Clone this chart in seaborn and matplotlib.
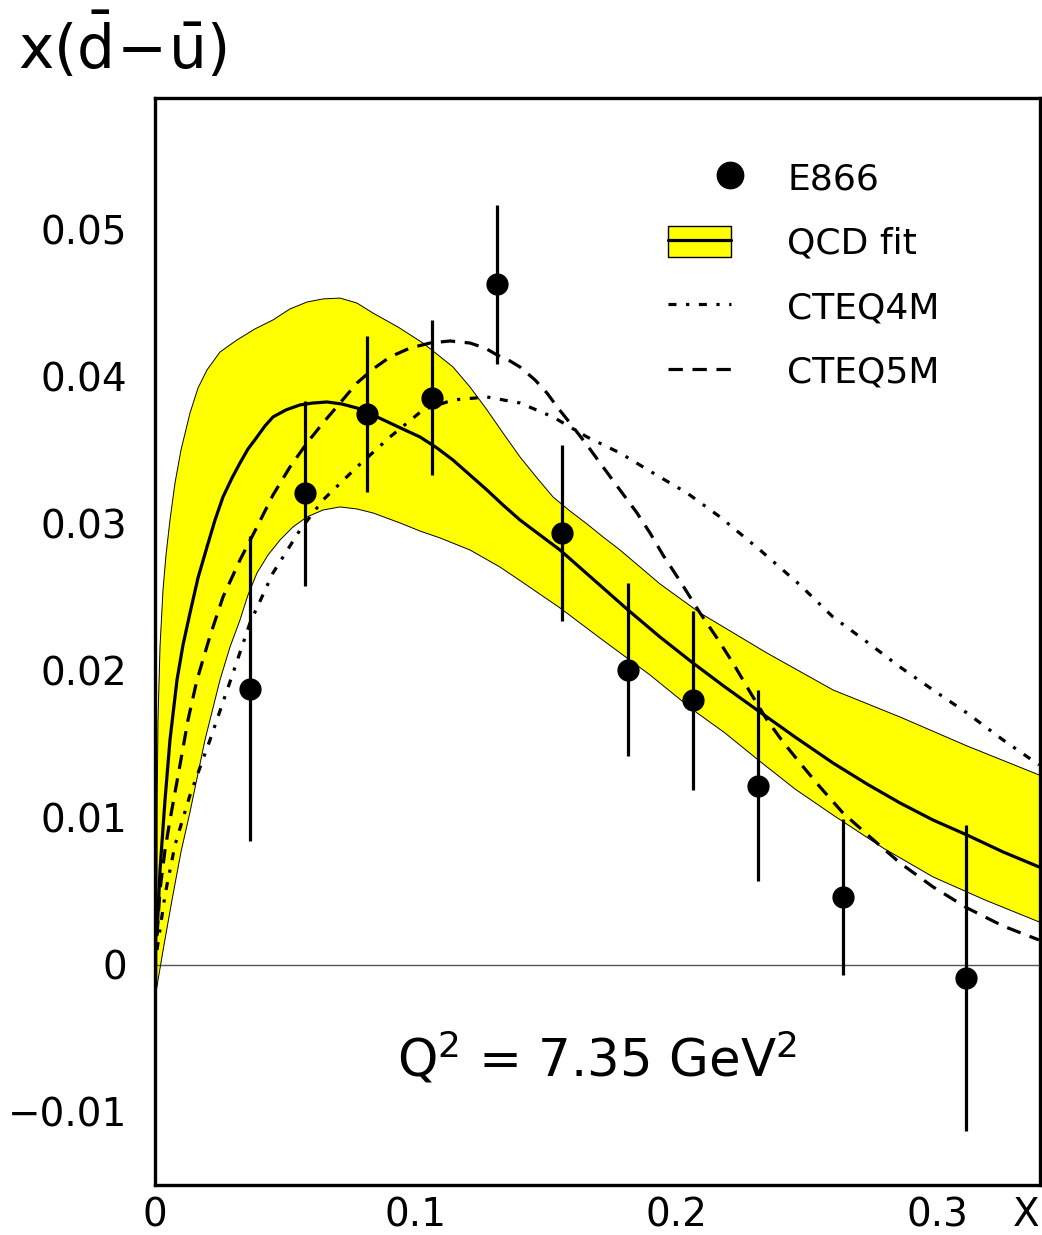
import numpy as np
import matplotlib
matplotlib.use("Agg")
import matplotlib.pyplot as plt
import seaborn as sns
from matplotlib.lines import Line2D
from matplotlib.patches import Patch
from matplotlib.legend_handler import HandlerLine2DCompound
import matplotlib.transforms as mtransforms

# ---------------- data ----------------
# E866 data points
e866_x = [0.0364, 0.0575, 0.0813, 0.1063, 0.1312, 0.1561, 0.1814, 0.2064, 0.2313, 0.2639, 0.3110]
e866_y = [0.0188, 0.0321, 0.0375, 0.0386, 0.0463, 0.0294, 0.0201, 0.0180, 0.0122, 0.0046, -0.0009]
e866_err = [0.0104, 0.0063, 0.0053, 0.0053, 0.0054, 0.0060, 0.0059, 0.0061, 0.0065, 0.0053, 0.0104]

# QCD fit central curve
qcd_x = [0.00077, 0.00192, 0.00384, 0.00575, 0.00844, 0.01074, 0.01343, 0.01649, 0.01995, 0.02302,
         0.02608, 0.02954, 0.03260, 0.03567, 0.03913, 0.04219, 0.04526, 0.05025, 0.05562, 0.06061,
         0.06598, 0.07173, 0.07748, 0.08362, 0.09014, 0.09590, 0.10165, 0.10817, 0.11431, 0.12083,
         0.12735, 0.13349, 0.14001, 0.14768, 0.15535, 0.16839, 0.18144, 0.19371, 0.20637, 0.21864,
         0.23092, 0.24549, 0.26007, 0.27311, 0.28577, 0.29843, 0.31147, 0.32528, 0.33909]
qcd_y = [0.00204, 0.00646, 0.01122, 0.01531, 0.01939, 0.02177, 0.02395, 0.02633, 0.02844, 0.03027,
         0.03184, 0.03313, 0.03415, 0.03510, 0.03592, 0.03667, 0.03728, 0.03776, 0.03810, 0.03823,
         0.03830, 0.03816, 0.03789, 0.03741, 0.03687, 0.03639, 0.03592, 0.03517, 0.03435, 0.03333,
         0.03231, 0.03129, 0.03027, 0.02925, 0.02823, 0.02619, 0.02415, 0.02231, 0.02054, 0.01891,
         0.01735, 0.01551, 0.01374, 0.01231, 0.01102, 0.00986, 0.00884, 0.00769, 0.00667]

# QCD fit error band, upper edge
band_up_x = [0.00065, 0.00084, 0.00115, 0.00192, 0.00307, 0.00422, 0.00575, 0.00767, 0.00997, 0.01343,
             0.01649, 0.01995, 0.02493, 0.03145, 0.03836, 0.04526, 0.05178, 0.05830, 0.06444, 0.07096,
             0.07748, 0.08362, 0.09321, 0.10280, 0.10855, 0.11431, 0.12083, 0.12735, 0.13349, 0.14001,
             0.14653, 0.15267, 0.15919, 0.16571, 0.17185, 0.17837, 0.19371, 0.20905, 0.23475, 0.26007,
             0.28577, 0.31147, 0.33909]
band_up_y = [-0.00156, 0.01122, 0.01667, 0.02163, 0.02551, 0.02789, 0.03027, 0.03279, 0.03503, 0.03755,
             0.03925, 0.04048, 0.04170, 0.04252, 0.04327, 0.04388, 0.04463, 0.04510, 0.04531, 0.04537,
             0.04503, 0.04435, 0.04340, 0.04231, 0.04150, 0.04068, 0.03932, 0.03776, 0.03619, 0.03456,
             0.03313, 0.03184, 0.03088, 0.03000, 0.02912, 0.02823, 0.02592, 0.02395, 0.02122, 0.01871,
             0.01687, 0.01490, 0.01293]

# QCD fit error band, lower edge
band_lo_x = [0.00065, 0.00345, 0.00652, 0.00997, 0.01343, 0.01918, 0.02493, 0.02877, 0.03260, 0.03567,
             0.03913, 0.04335, 0.04795, 0.05293, 0.05830, 0.06444, 0.07096, 0.07748, 0.08362, 0.09398,
             0.10165, 0.10932, 0.12083, 0.13234, 0.14193, 0.15535, 0.17069, 0.18987, 0.20637, 0.21864,
             0.23092, 0.24549, 0.26007, 0.27925, 0.29843, 0.31838, 0.33909]
band_lo_y = [-0.00156, 0.00136, 0.00442, 0.00769, 0.01041, 0.01531, 0.01939, 0.02163, 0.02347, 0.02517,
             0.02667, 0.02789, 0.02891, 0.02980, 0.03048, 0.03095, 0.03116, 0.03102, 0.03075, 0.03007,
             0.02952, 0.02905, 0.02823, 0.02707, 0.02592, 0.02429, 0.02224, 0.01973, 0.01735, 0.01578,
             0.01401, 0.01197, 0.01020, 0.00796, 0.00599, 0.00442, 0.00293]

# CTEQ4M
c4_x = [0.00077, 0.00384, 0.00767, 0.01343, 0.02110, 0.02992, 0.03644, 0.04526, 0.05562, 0.06444,
        0.07748, 0.09014, 0.10280, 0.11431, 0.12735, 0.14001, 0.15267, 0.16571, 0.17837, 0.19103,
        0.20406, 0.21673, 0.23207, 0.24741, 0.26007, 0.27311, 0.28577, 0.29843, 0.31147, 0.32528,
        0.33909]
c4_y = [0.00102, 0.00476, 0.00816, 0.01156, 0.01531, 0.01986, 0.02327, 0.02667, 0.02959, 0.03163,
        0.03388, 0.03592, 0.03776, 0.03844, 0.03864, 0.03823, 0.03728, 0.03592, 0.03483, 0.03347,
        0.03211, 0.03048, 0.02823, 0.02585, 0.02367, 0.02197, 0.02027, 0.01871, 0.01714, 0.01531,
        0.01361]

# CTEQ5M
c5_x = [0.00077, 0.00192, 0.00384, 0.00575, 0.00959, 0.01266, 0.01611, 0.02110, 0.02608, 0.03260,
        0.03913, 0.04526, 0.05178, 0.05830, 0.06444, 0.07096, 0.07748, 0.08362, 0.09014, 0.09781,
        0.10548, 0.11316, 0.12083, 0.12658, 0.13119, 0.13617, 0.14001, 0.14576, 0.15036, 0.15458,
        0.15919, 0.16571, 0.17185, 0.17837, 0.18489, 0.18987, 0.19486, 0.20138, 0.20905, 0.21557,
        0.22171, 0.22823, 0.23475, 0.24089, 0.24741, 0.25508, 0.26390, 0.27426, 0.28577, 0.29843,
        0.31147, 0.32528, 0.33909]
c5_y = [0.00204, 0.00510, 0.00782, 0.00986, 0.01361, 0.01667, 0.01939, 0.02238, 0.02503, 0.02755,
        0.02980, 0.03197, 0.03388, 0.03551, 0.03687, 0.03823, 0.03959, 0.04054, 0.04136, 0.04197,
        0.04231, 0.04245, 0.04231, 0.04197, 0.04150, 0.04109, 0.04068, 0.03980, 0.03891, 0.03789,
        0.03687, 0.03537, 0.03388, 0.03231, 0.03075, 0.02939, 0.02789, 0.02612, 0.02395, 0.02224,
        0.02054, 0.01857, 0.01667, 0.01517, 0.01374, 0.01211, 0.01034, 0.00871, 0.00694, 0.00531,
        0.00388, 0.00265, 0.00170]

xticks = [0.0, 0.1, 0.2, 0.3]
xtick_labels = ["0", "0.1", "0.2", "0.3"]
yticks = [-0.01, 0.0, 0.01, 0.02, 0.03, 0.04, 0.05]
ytick_labels = ["\u22120.01", "0", "0.01", "0.02", "0.03", "0.04", "0.05"]

# ---------------- style ----------------
sns.set_theme(style="white")
plt.rcParams["font.family"] = ["DejaVu Sans"]
plt.rcParams["mathtext.fontset"] = "dejavusans"
plt.rcParams["text.color"] = "black"
plt.rcParams["axes.labelcolor"] = "black"

fig = plt.figure(figsize=(10.42, 12.35), dpi=100)
ax = fig.add_axes([155 / 1042, 1 - 1185 / 1235, (1040 - 155) / 1042, (1185 - 98) / 1235])
ax.set_facecolor("white")

# band
poly_x = list(band_up_x) + list(band_lo_x[::-1])
poly_y = list(band_up_y) + list(band_lo_y[::-1])
ax.fill(poly_x, poly_y, facecolor="#ffff00", edgecolor="none", zorder=1)
ax.plot(band_up_x, band_up_y, color="black", lw=0.7, zorder=2)
ax.plot(band_lo_x, band_lo_y, color="black", lw=0.7, zorder=2)

ax.axhline(0.0, color="#555555", lw=1.0, zorder=1.5)

DASHDOT = (0, (2.5, 3.0, 1.0, 3.0))
DASHED = (0, (4.5, 3.0))

sns.lineplot(x=qcd_x, y=qcd_y, ax=ax, color="black", lw=2.3, estimator=None,
             errorbar=None, zorder=3)
sns.lineplot(x=c4_x, y=c4_y, ax=ax, color="black", lw=2.3, estimator=None,
             errorbar=None, linestyle=DASHDOT, zorder=3)
sns.lineplot(x=c5_x, y=c5_y, ax=ax, color="black", lw=2.3, estimator=None,
             errorbar=None, linestyle=DASHED, zorder=3)

ax.errorbar(e866_x, e866_y, yerr=e866_err, fmt="o", color="black", ms=15,
            elinewidth=2.3, capsize=0, zorder=4)

ax.set_xlim(0, 0.33947)
ax.set_ylim(-0.01497, 0.05898)
ax.set_xticks(xticks)
ax.set_xticklabels(xtick_labels)
ax.set_yticks(yticks)
ax.set_yticklabels(ytick_labels)
ax.tick_params(axis="both", direction="in", length=14, width=2.3, colors="black",
               labelsize=28, top=False, right=False)
ax.tick_params(axis="x", pad=8)
ax.tick_params(axis="y", pad=20)
for s in ax.spines.values():
    s.set_visible(True)
    s.set_color("black")
    s.set_linewidth(2.4)
ax.grid(False)

# x-axis label at the end of the axis, level with the tick labels
trans = mtransforms.blended_transform_factory(ax.transData, ax.transAxes)
ax.annotate("X", xy=(0.334, 0), xycoords=trans, xytext=(0, -8),
            textcoords="offset points", ha="center", va="top", fontsize=28,
            color="black")

# y label
fig.text(18 / 1042, 1 - 47 / 1235, r"$\mathregular{x(\bar{d}\!-\!\bar{u})}$",
         ha="left", va="center", fontsize=43, color="black")

# Q^2 annotation
ax.text(0.1696, -0.0076, r"Q$^2$ = 7.35 GeV$^2$", ha="center", va="baseline",
        fontsize=37, color="black")


class RightMarker(HandlerLine2DCompound):
    def get_xdata(self, legend, xdescent, ydescent, width, height, fontsize):
        xdata = np.array([-xdescent, -xdescent + width])
        xdata_marker = np.array([-xdescent + width - 0.03 * fontsize])
        return xdata, xdata_marker


h_e866 = Line2D([], [], linestyle="none", marker="o", color="black", ms=19)
h_qcd = (Patch(facecolor="#ffff00", edgecolor="black", lw=1.0),
         Line2D([], [], color="black", lw=2.3))
h_c4 = Line2D([], [], color="black", lw=2.3, linestyle=DASHDOT)
h_c5 = Line2D([], [], color="black", lw=2.3, linestyle=DASHED)

leg = ax.legend([h_e866, h_qcd, h_c4, h_c5], ["E866", "QCD fit", "CTEQ4M", "CTEQ5M"],
                handler_map={h_e866: RightMarker(numpoints=1)},
                loc="upper left", bbox_to_anchor=(0.5797, 0.942), frameon=False,
                fontsize=26, handlelength=1.75, handletextpad=1.55, handleheight=0.95,
                labelspacing=0.82, borderpad=0, borderaxespad=0)
for t in leg.get_texts():
    t.set_color("black")

fig.savefig("out.png", dpi=100)
